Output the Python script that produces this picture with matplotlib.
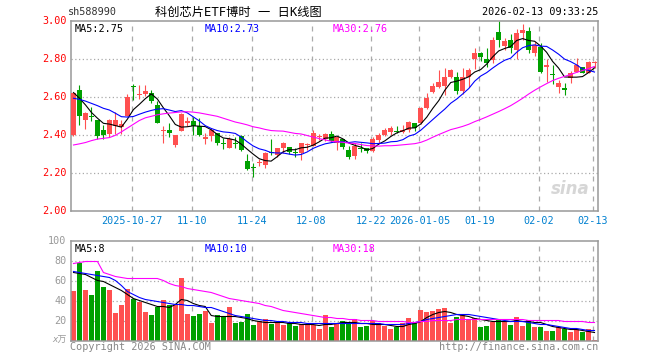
import matplotlib
matplotlib.use("Agg")
import matplotlib.pyplot as plt
from matplotlib.transforms import offset_copy
import numpy as np

# ---------------- data ----------------
tick_idx = [10, 20, 30, 40, 50, 58, 68, 78, 87]
tick_labels = ["2025-10-27", "11-10", "11-24", "12-08", "12-22", "2026-01-05", "01-19", "02-02", "02-13"]

opens = [2.40, 2.64, 2.48, 2.50, 2.48, 2.43, 2.407, 2.45, 2.445, 2.50,
         2.66, 2.613, 2.619, 2.624, 2.559, 2.422, 2.428, 2.349, 2.422, 2.466,
         2.477, 2.449, 2.379, 2.396, 2.41, 2.356, 2.335, 2.36, 2.396, 2.265,
         2.232, 2.254, 2.244, 2.312, 2.296, 2.331, 2.34, 2.31, 2.305, 2.347,
         2.344, 2.389, 2.379, 2.407, 2.361, 2.379, 2.323, 2.291, 2.33, 2.335,
         2.319, 2.375, 2.40, 2.416, 2.421, 2.416, 2.428, 2.466, 2.463, 2.542,
         2.626, 2.655, 2.66, 2.708, 2.708, 2.635, 2.705, 2.80, 2.832, 2.80,
         2.796, 2.945, 2.87, 2.90, 2.849, 2.937, 2.947, 2.832, 2.866, 2.758,
         2.72, 2.656, 2.647, 2.70, 2.735, 2.761, 2.73, 2.778]
closes = [2.62, 2.50, 2.52, 2.495, 2.396, 2.403, 2.48, 2.48, 2.458, 2.603,
          2.655, 2.617, 2.633, 2.582, 2.466, 2.426, 2.41, 2.40, 2.512, 2.477,
          2.449, 2.403, 2.389, 2.428, 2.358, 2.354, 2.379, 2.354, 2.323, 2.223,
          2.228, 2.258, 2.305, 2.308, 2.335, 2.358, 2.314, 2.306, 2.358, 2.351,
          2.412, 2.396, 2.407, 2.37, 2.393, 2.34, 2.287, 2.344, 2.327, 2.319,
          2.379, 2.40, 2.43, 2.44, 2.418, 2.43, 2.472, 2.437, 2.542, 2.598,
          2.659, 2.68, 2.708, 2.744, 2.635, 2.708, 2.744, 2.832, 2.81, 2.779,
          2.90, 2.90, 2.898, 2.858, 2.937, 2.954, 2.849, 2.875, 2.735, 2.77,
          2.715, 2.677, 2.638, 2.73, 2.77, 2.73, 2.784, 2.78]
highs = [2.625, 2.666, 2.525, 2.55, 2.48, 2.454, 2.484, 2.524, 2.48, 2.616,
         2.67, 2.665, 2.665, 2.638, 2.579, 2.449, 2.463, 2.40, 2.515, 2.498,
         2.498, 2.489, 2.41, 2.437, 2.41, 2.384, 2.393, 2.389, 2.40, 2.30,
         2.253, 2.274, 2.314, 2.379, 2.335, 2.366, 2.34, 2.335, 2.361, 2.361,
         2.428, 2.407, 2.414, 2.424, 2.393, 2.379, 2.344, 2.358, 2.358, 2.335,
         2.389, 2.41, 2.437, 2.449, 2.449, 2.454, 2.475, 2.466, 2.551, 2.621,
         2.677, 2.745, 2.753, 2.75, 2.735, 2.753, 2.753, 2.858, 2.84, 2.858,
         2.919, 3.00, 2.91, 2.933, 2.958, 2.986, 2.968, 2.89, 2.884, 2.80,
         2.77, 2.691, 2.674, 2.74, 2.805, 2.761, 2.793, 2.793]
lows = [2.395, 2.453, 2.433, 2.475, 2.38, 2.379, 2.393, 2.407, 2.407, 2.50,
        2.585, 2.59, 2.607, 2.568, 2.463, 2.361, 2.393, 2.34, 2.42, 2.449,
        2.40, 2.396, 2.353, 2.372, 2.349, 2.326, 2.331, 2.331, 2.319, 2.217,
        2.182, 2.238, 2.226, 2.296, 2.287, 2.308, 2.30, 2.287, 2.27, 2.323,
        2.344, 2.375, 2.37, 2.363, 2.323, 2.326, 2.274, 2.274, 2.314, 2.308,
        2.31, 2.358, 2.397, 2.40, 2.41, 2.414, 2.419, 2.424, 2.46, 2.54,
        2.621, 2.65, 2.612, 2.70, 2.617, 2.617, 2.656, 2.747, 2.793, 2.761,
        2.779, 2.866, 2.849, 2.832, 2.80, 2.90, 2.832, 2.82, 2.726, 2.682,
        2.67, 2.621, 2.612, 2.674, 2.735, 2.73, 2.73, 2.753]

ma5 = [2.625, 2.595, 2.56, 2.52, 2.49, 2.463, 2.459, 2.451, 2.443, 2.485,
       2.535, 2.563, 2.593, 2.618, 2.591, 2.545, 2.503, 2.457, 2.443, 2.445,
       2.450, 2.448, 2.446, 2.429, 2.405, 2.386, 2.382, 2.375, 2.354, 2.327,
       2.301, 2.277, 2.267, 2.264, 2.287, 2.313, 2.324, 2.324, 2.334, 2.337,
       2.348, 2.365, 2.385, 2.387, 2.396, 2.381, 2.359, 2.347, 2.338, 2.323,
       2.331, 2.354, 2.371, 2.394, 2.413, 2.424, 2.438, 2.439, 2.460, 2.496,
       2.542, 2.583, 2.637, 2.678, 2.685, 2.695, 2.708, 2.733, 2.746, 2.775,
       2.813, 2.844, 2.857, 2.867, 2.899, 2.909, 2.899, 2.895, 2.870, 2.837,
       2.789, 2.754, 2.707, 2.706, 2.706, 2.709, 2.730, 2.755]
ma10 = [2.595, 2.589, 2.58, 2.568, 2.556, 2.542, 2.533, 2.516, 2.498, 2.496,
        2.499, 2.511, 2.522, 2.531, 2.538, 2.540, 2.533, 2.525, 2.530, 2.518,
        2.497, 2.476, 2.451, 2.436, 2.425, 2.418, 2.415, 2.410, 2.391, 2.366,
        2.344, 2.329, 2.321, 2.309, 2.307, 2.307, 2.301, 2.296, 2.299, 2.312,
        2.331, 2.344, 2.355, 2.361, 2.367, 2.365, 2.362, 2.366, 2.363, 2.360,
        2.356, 2.357, 2.359, 2.366, 2.368, 2.377, 2.396, 2.405, 2.427, 2.455,
        2.483, 2.511, 2.538, 2.569, 2.591, 2.618, 2.646, 2.685, 2.712, 2.730,
        2.754, 2.776, 2.795, 2.806, 2.837, 2.861, 2.872, 2.876, 2.869, 2.868,
        2.849, 2.827, 2.801, 2.788, 2.771, 2.749, 2.742, 2.733]
ma30 = [2.349, 2.355, 2.362, 2.372, 2.380, 2.384, 2.388, 2.400, 2.418, 2.438,
        2.458, 2.478, 2.492, 2.500, 2.508, 2.513, 2.517, 2.520, 2.523, 2.524,
        2.522, 2.518, 2.512, 2.506, 2.500, 2.490, 2.480, 2.470, 2.463, 2.455,
        2.445, 2.439, 2.431, 2.425, 2.423, 2.422, 2.416, 2.410, 2.407, 2.399,
        2.391, 2.383, 2.376, 2.369, 2.366, 2.363, 2.359, 2.357, 2.351, 2.346,
        2.344, 2.343, 2.345, 2.345, 2.347, 2.350, 2.353, 2.356, 2.363, 2.375,
        2.390, 2.404, 2.417, 2.430, 2.438, 2.447, 2.458, 2.472, 2.484, 2.497,
        2.511, 2.525, 2.540, 2.556, 2.575, 2.595, 2.617, 2.637, 2.655, 2.672,
        2.688, 2.700, 2.710, 2.720, 2.731, 2.741, 2.751, 2.762]

volumes = [50, 78, 51, 46, 70, 54, 51, 28, 36, 52,
           42, 39, 29, 26, 34, 41, 36, 36, 63, 27,
           25, 27, 30, 18, 26, 24, 34, 18, 19, 27,
           16, 20, 22, 17, 18, 16, 18, 15, 17, 16,
           16, 12, 26, 14, 18, 20, 17, 22, 14, 15,
           20, 18, 15, 12, 14, 18, 23, 19, 31, 29,
           30, 32, 33, 18, 24, 26, 21, 23, 14, 15,
           19, 22, 19, 16, 24, 15, 21, 14, 14, 10,
           10, 14, 12, 9, 12, 9, 12, 1]
vma5 = [68, 67, 66, 63, 60, 59, 56, 53, 50, 46,
        42, 40, 38, 36, 34, 34, 33, 36, 41, 40,
        37, 35, 34, 25, 24, 24, 24, 24, 23, 22,
        20, 19, 18, 18, 18, 18, 17, 17, 16, 16,
        16, 15, 16, 16, 17, 18, 18, 18, 17, 17,
        16, 16, 16, 15, 14, 14, 16, 17, 19, 23,
        26, 28, 29, 28, 26, 25, 24, 22, 21, 20,
        19, 19, 19, 19, 20, 19, 19, 18, 18, 16,
        14, 13, 12, 11, 11, 10, 9, 8]
vma10 = [69, 68, 67, 66, 65, 64, 63, 60, 55, 49,
         46, 43, 41, 40, 39, 38, 37, 36, 36, 35,
         35, 34, 33, 33, 31, 29, 27, 25, 24, 23,
         22, 21, 20, 20, 19, 19, 18, 18, 18, 17,
         17, 17, 17, 17, 17, 17, 17, 17, 17, 17,
         17, 17, 16, 16, 16, 16, 17, 18, 19, 21,
         22, 23, 24, 25, 26, 26, 26, 25, 24, 23,
         22, 21, 20, 19, 19, 19, 18, 17, 16, 16,
         15, 14, 13, 12, 12, 11, 10, 10]
vma30 = [77, 78, 79, 79, 79, 68, 66, 64, 63, 62,
         62, 62, 62, 62, 62, 60, 57, 55, 54, 52,
         51, 50, 49, 48, 46, 44, 42, 41, 40, 39,
         38, 37, 35, 34, 32, 30, 29, 28, 27, 26,
         25, 24, 23, 23, 22, 22, 21, 21, 20, 20,
         20, 19, 19, 19, 19, 19, 18, 18, 19, 19,
         20, 20, 20, 20, 21, 21, 21, 21, 21, 21,
         21, 21, 21, 21, 21, 21, 20, 20, 20, 20,
         20, 20, 19, 19, 19, 19, 18, 18]

title_code = "sh588990"
title_name = "科创芯片ETF博时 一 日K线图"
title_time = "2026-02-13 09:33:25"
price_ticks = [2.00, 2.20, 2.40, 2.60, 2.80, 3.00]
vol_ticks = [20, 40, 60, 80, 100]

# ---------------- style ----------------
RED = "#ff5050"
GREEN = "#00a000"
GRID = "#aaaaaa"
BORDER = "#999999"
DATE_C = "#0080d0"
MONO = ["DejaVu Sans Mono", "Noto Sans CJK SC"]
FS = 7.3
LW = 0.8

plt.rcParams["font.family"] = MONO

W, H = 660, 360
fig = plt.figure(figsize=(W / 100, H / 100), dpi=100)
fig.patch.set_facecolor("white")


def fx(px):
    return px / W


def fy(py):
    return 1 - py / H


L, R = 70.5, 597.5
ax = fig.add_axes([fx(L), fy(211.3), fx(R - L), fy(21.3) - fy(211.3)])
axv = fig.add_axes([fx(L), fy(340.5), fx(R - L), fy(240.5) - fy(340.5)])

n = len(closes)
x = np.arange(n)
up = np.array(closes) >= np.array(opens)
colors = [RED if u else GREEN for u in up]
bw = 5 / 6

for a in (ax, axv):
    a.set_xlim(-0.5, n - 0.5)
    for s in a.spines.values():
        s.set_color(BORDER)
        s.set_linewidth(1.1)
    a.set_xticks([])
    a.set_yticks([])
    for ti in tick_idx:
        a.axvline(ti - 0.25, color=GRID, lw=0.9, ls=(0, (4, 4)), zorder=0)

# ---------- price panel ----------
ax.set_ylim(2.0, 3.0)
for p in price_ticks[1:-1]:
    ax.axhline(p, color=GRID, lw=0.9, ls=(0, (1, 2)), zorder=0)

ax.vlines(x, lows, highs, colors=colors, lw=LW, zorder=2)
body_bottom = np.minimum(opens, closes)
body_h = np.maximum(np.abs(np.array(closes) - np.array(opens)), 0.006)
ax.bar(x, body_h, bottom=body_bottom, width=bw, color=colors, zorder=3, linewidth=0)

ax.plot(x, ma5, color="black", lw=LW, zorder=4)
ax.plot(x, ma10, color="#0000ff", lw=LW, zorder=4)
ax.plot(x, ma30, color="#ff00ff", lw=LW, zorder=4)

lab_tr = offset_copy(ax.transData, fig=fig, x=-4, y=0, units="dots")
for p in price_ticks:
    ax.text(-0.5, p, f"{p:.2f}", ha="right", va="center", color="#ff0000",
            fontsize=FS, transform=lab_tr, clip_on=False)

date_tr = offset_copy(ax.transData, fig=fig, x=0, y=-5, units="dots")
for ti, lab in zip(tick_idx, tick_labels):
    ax.text(ti - 0.25, 2.0, lab, ha="center", va="top", color=DATE_C, fontsize=FS,
            transform=date_tr, clip_on=False)

ax.text(0.008, 0.985, f"MA5:{ma5[-1]:.2f}", transform=ax.transAxes, ha="left", va="top",
        color="black", fontsize=FS)
ax.text(0.255, 0.985, f"MA10:{ma10[-1]:.2f}", transform=ax.transAxes, ha="left", va="top",
        color="#0000ff", fontsize=FS)
ax.text(0.497, 0.985, f"MA30:{ma30[-1]:.2f}", transform=ax.transAxes, ha="left", va="top",
        color="#ff00ff", fontsize=FS)

ax.text(0.985, 0.12, "sina", transform=ax.transAxes, ha="right", va="center",
        color="#cccccc", fontsize=12, fontweight="bold", style="italic",
        family="DejaVu Sans", alpha=0.8, zorder=1)

# ---------- volume panel ----------
axv.set_ylim(0, 100)
for v in vol_ticks[:-1]:
    axv.axhline(v, color=GRID, lw=0.9, ls=(0, (1, 2)), zorder=0)
axv.bar(x, volumes, width=bw, color=colors, zorder=2, linewidth=0)
axv.plot(x, vma5, color="black", lw=LW, zorder=4)
axv.plot(x, vma10, color="#0000ff", lw=LW, zorder=4)
axv.plot(x, vma30, color="#ff00ff", lw=LW, zorder=4)
vlab_tr = offset_copy(axv.transData, fig=fig, x=-4, y=0, units="dots")
for v in vol_ticks:
    axv.text(-0.5, v, f"{v}", ha="right", va="center", color="#999999",
             fontsize=FS, transform=vlab_tr, clip_on=False)
axv.text(-0.5, 0, "x万", ha="right", va="center", color="#999999", fontsize=6.5,
         transform=vlab_tr, clip_on=False, style="italic")

axv.text(0.008, 0.97, f"MA5:{vma5[-1]}", transform=axv.transAxes, ha="left", va="top",
         color="black", fontsize=FS)
axv.text(0.255, 0.97, f"MA10:{vma10[-1]}", transform=axv.transAxes, ha="left", va="top",
         color="#0000ff", fontsize=FS)
axv.text(0.497, 0.97, f"MA30:{vma30[-1]}", transform=axv.transAxes, ha="left", va="top",
         color="#ff00ff", fontsize=FS)

# ---------- header / footer ----------
fig.text(fx(68), fy(12), title_code, ha="left", va="center", fontsize=FS, color="#333333")
fig.text(fx(238), fy(12), title_name, ha="center", va="center", fontsize=8.8, color="black")
fig.text(fx(598), fy(12), title_time, ha="right", va="center", fontsize=FS, color="black")
fig.text(fx(70), fy(347), "Copyright 2026 SINA.COM", ha="left", va="center", fontsize=FS,
         color="#888888")
fig.text(fx(598), fy(347), "http://finance.sina.com.cn", ha="right", va="center", fontsize=FS,
         color="#888888")

fig.savefig("out.png", dpi=100, facecolor="white")
